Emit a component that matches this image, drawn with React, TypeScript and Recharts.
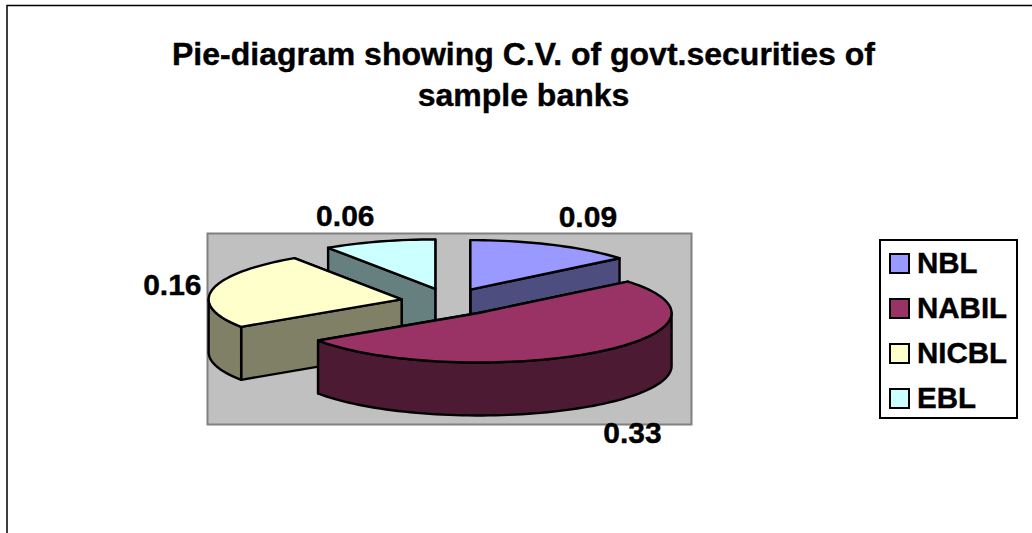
import * as React from 'react';
import { PieChart, Pie, Legend } from 'recharts';

const banks = ['NBL', 'EBL', 'NICBL', 'NABIL']; // draw order, back slices first
const cvValues = [0.09, 0.06, 0.16, 0.33];
const legendOrder = ['NBL', 'NABIL', 'NICBL', 'EBL'];
const titleLines = ['Pie-diagram showing C.V. of govt.securities of', 'sample banks'];

const topColors: Record<string, string> = { NBL: '#9999ff', NABIL: '#993366', NICBL: '#ffffcc', EBL: '#ccffff' };
const sideColors: Record<string, string> = { NBL: '#4d4d80', NABIL: '#4d1a33', NICBL: '#808066', EBL: '#668080' };
const labelNudge: Record<string, number[]> = { NBL: [35, -28], NABIL: [39, 27], NICBL: [-40, -5], EBL: [-34, -26] };

const data = banks.map((name, i) => ({ name, value: cvValues[i], fill: topColors[name] }));
const total = cvValues.reduce((a, b) => a + b, 0);
// the NBL slice ends at 12 o'clock, so start where its clockwise edge falls
const firstAngle = 90 - (360 * cvValues[0]) / total;

const SQUASH = 0.2565;
const DEPTH = 53;
const EXPLODE = 48.8;
const RAD = Math.PI / 180;
const FONT = '"Liberation Sans", Arial, sans-serif';

const sliceCentre = (cx: number, cy: number, mid: number) => [
  cx + EXPLODE * Math.cos(mid * RAD),
  cy - EXPLODE * 0.28 * Math.sin(mid * RAD),
];

const arcPoints = (x: number, y: number, r: number, from: number, to: number) => {
  const pts: string[] = [];
  const steps = Math.max(2, Math.ceil(Math.abs(to - from) / 2));
  for (let i = 0; i <= steps; i++) {
    const a = (from + ((to - from) * i) / steps) * RAD;
    pts.push(`${(x + r * Math.cos(a)).toFixed(2)} ${(y - r * SQUASH * Math.sin(a)).toFixed(2)}`);
  }
  return pts;
};

const Slice3D = (props: any) => {
  const { cx, cy, outerRadius: r, startAngle, endAngle, midAngle, name } = props;
  const [x, y] = sliceCentre(cx, cy, midAngle);
  const from = Math.min(startAngle, endAngle);
  const to = Math.max(startAngle, endAngle);
  const side = sideColors[name];
  const line = { stroke: '#000', strokeWidth: 2.4, strokeLinejoin: 'round' as const };

  const corner = (a: number) => [x + r * Math.cos(a * RAD), y - r * SQUASH * Math.sin(a * RAD)];
  const face = (a: number) => {
    const [px, py] = corner(a);
    return `M${x} ${y}L${px} ${py}L${px} ${py + DEPTH}L${x} ${y + DEPTH}Z`;
  };

  // front rim is whatever part of the arc lies in the lower half of the ellipse (180-360)
  const rims: string[] = [];
  [[180, 360], [540, 720]].forEach(([lo, hi]) => {
    const a = Math.max(from, lo);
    const b = Math.min(to, hi);
    if (b > a) {
      const upper = arcPoints(x, y, r, a, b);
      const lower = arcPoints(x, y + DEPTH, r, b, a);
      rims.push(`M${upper.join('L')}L${lower.join('L')}Z`);
    }
  });

  return (
    <g>
      <path d={face(from)} fill={side} {...line} />
      <path d={face(to)} fill={side} {...line} />
      {rims.map((d, i) => (
        <path key={i} d={d} fill={side} {...line} />
      ))}
      <path d={`M${x} ${y}L${arcPoints(x, y, r, from, to).join('L')}Z`} fill={topColors[name]} {...line} />
    </g>
  );
};

const renderValue = (props: any) => {
  const { cx, cy, outerRadius: r, midAngle, name, value } = props;
  const [x, y] = sliceCentre(cx, cy, midAngle);
  const lowerHalf = Math.sin(midAngle * RAD) < 0;
  const ax = x + r * Math.cos(midAngle * RAD) + labelNudge[name][0];
  const ay = y - r * SQUASH * Math.sin(midAngle * RAD) + (lowerHalf ? DEPTH : 0) + labelNudge[name][1];
  return (
    <text key={name} x={ax} y={ay} textAnchor="middle" dominantBaseline="central" fontFamily={FONT} fontWeight="bold" fontSize={30} fill="#000" stroke="#000" strokeWidth={0.4}>
      {value.toFixed(2)}
    </text>
  );
};

const LegendBox = ({ payload }: any) => (
  <div style={{ width: 139, height: 180, boxSizing: 'border-box', border: '2px solid #000', background: '#fff', position: 'relative', fontFamily: FONT, fontWeight: 'bold', fontSize: 29.5, WebkitTextStroke: '0.4px #000' }}>
    {legendOrder.map((name, i) => {
      const item = (payload || []).find((p: any) => p.value === name);
      return (
        <div key={name} style={{ position: 'absolute', left: 8, top: 2 + i * 45, height: 40, display: 'flex', alignItems: 'center' }}>
          <span style={{ width: 21, height: 21, boxSizing: 'border-box', border: '2.5px solid #000', background: item ? item.color : topColors[name], marginRight: 7 }} />
          <span>{name}</span>
        </div>
      );
    })}
  </div>
);

export default function App() {
  return (
    <div style={{ position: 'absolute', left: 0, top: 0 }}>
      <PieChart width={1032} height={533} margin={{ top: 0, right: 0, bottom: 0, left: 0 }}>
        <rect x={0} y={0} width={1032} height={533} fill="#fff" />
        <path d="M7 533V5.5H1032" fill="none" stroke="#000" strokeWidth={1.5} />
        <rect x={207.5} y={233.5} width={484} height={191} fill="#c0c0c0" stroke="#808080" strokeWidth={2} />
        {titleLines.map((t, i) => (
          <text key={t} x={523.5} y={54 + i * 41} textAnchor="middle" dominantBaseline="central" fontFamily={FONT} fontWeight="bold" fontSize={32} fill="#000" stroke="#000" strokeWidth={0.4}>
            {t}
          </text>
        ))}
        <Pie
          data={data}
          dataKey="value"
          nameKey="name"
          cx={449.5}
          cy={302}
          innerRadius={0}
          outerRadius={193}
          startAngle={firstAngle}
          endAngle={firstAngle + 360}
          paddingAngle={0}
          shape={Slice3D}
          label={renderValue}
          labelLine={false}
          isAnimationActive={false}
        />
        <Legend content={LegendBox} layout="vertical" wrapperStyle={{ position: 'absolute', left: 879, top: 239, width: 139, height: 180 }} />
      </PieChart>
    </div>
  );
}
